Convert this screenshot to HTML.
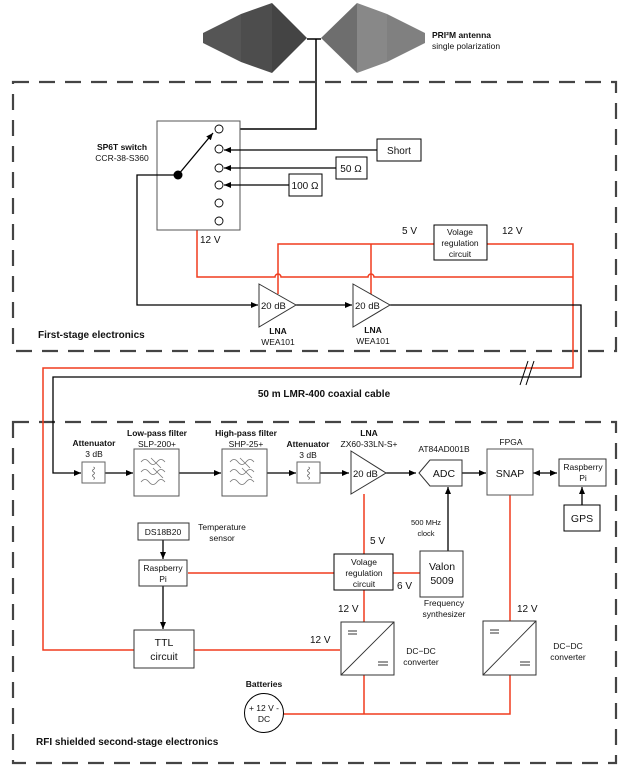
<!DOCTYPE html>
<html><head><meta charset="utf-8"><style>
html,body{margin:0;padding:0;background:#fff}
svg{display:block}
text{font-family:"Liberation Sans",sans-serif;fill:#111}
.s{font-size:8.5px}.b{font-weight:bold}
</style></head><body>
<svg width="623" height="777" viewBox="0 0 623 777" xmlns="http://www.w3.org/2000/svg">
<defs>
<marker id="a" markerWidth="8" markerHeight="8" refX="7" refY="4" orient="auto" markerUnits="userSpaceOnUse"><path d="M0,1 L7,4 L0,7 z" fill="#000"/></marker>
<marker id="as" markerWidth="8" markerHeight="8" refX="1" refY="4" orient="auto" markerUnits="userSpaceOnUse"><path d="M8,1 L1,4 L8,7 z" fill="#000"/></marker>
<g id="wave"><path d="M-14,-10 q4,-5 8,0 t8,0 t8,0 M-14,0 q4,-5 8,0 t8,0 t8,0 M-14,10 q4,-5 8,0 t8,0 t8,0" fill="none" stroke="#777" stroke-width="0.8"/><path d="M-4,-14 L6,-4 M-2,-4 L8,6" stroke="#777" stroke-width="0.8"/></g>
<g id="att"><path d="M0,-6 q2,1 0,2.5 q-2,1 0,2.5 q2,1 0,2.5 q-2,1 0,2.5 q2,1 0,2.5" fill="none" stroke="#555" stroke-width="0.7"/></g>
</defs>

<!-- antenna -->
<polygon points="203,33 241,14 241,62 203,43" fill="#555"/>
<polygon points="241,14 272,3 272,73 241,62" fill="#4d4d4d"/>
<polygon points="272,3 307,38 272,73" fill="#444"/>
<polygon points="321,38 357,3 357,73" fill="#6e6e6e"/>
<polygon points="357,3 387,14 387,62 357,73" fill="#888"/>
<polygon points="387,14 425,33 425,43 387,62" fill="#808080"/>
<path d="M307,39 H321 M316,39 V129 H222" stroke="#000" stroke-width="1.5" fill="none" marker-end="url(#a)"/>
<text x="432" y="38" class="s b">PRI²M antenna</text>
<text x="432" y="49" class="s">single polarization</text>

<!-- dashed boxes -->
<rect x="13" y="82" width="603" height="269" fill="none" stroke="#444" stroke-width="2.2" stroke-dasharray="16,10"/>
<rect x="13" y="422" width="603" height="341" fill="none" stroke="#444" stroke-width="2.2" stroke-dasharray="16,10"/>

<!-- red first stage -->
<g stroke="#f03c1e" stroke-width="1.5" fill="none">
<path d="M197,230 V277 H275 a3,3 0 0 1 6,0 H368 a3,3 0 0 1 6,0 H573"/>
<path d="M434,244 H278 V294 M371,244 V294"/>
<path d="M487,244 H573 V368 H43 V650 H134"/>
<path d="M194,650 H340"/>
<path d="M188,573 H334 M393,573 H420"/>
<path d="M364,494 V554 M364,590 V622 M364,675 V714 M283,714 H510 V675 M510,495 V621"/>
</g>

<!-- switch -->
<rect x="157" y="121" width="83" height="109" fill="#fff" stroke="#555" stroke-width="1"/>
<g fill="#fff" stroke="#000" stroke-width="0.9">
<circle cx="219" cy="129" r="4"/><circle cx="219" cy="149" r="4"/><circle cx="219" cy="168" r="4"/><circle cx="219" cy="185" r="4"/><circle cx="219" cy="203" r="4"/><circle cx="219" cy="221" r="4"/>
</g>
<circle cx="178" cy="175" r="4.5" fill="#000"/>
<path d="M178,175 L213,133" stroke="#000" stroke-width="1.3" marker-end="url(#a)"/>
<text x="122" y="150" class="s b" text-anchor="middle">SP6T switch</text>
<text x="122" y="161" class="s" text-anchor="middle">CCR-38-S360</text>
<text x="200" y="243" style="font-size:10px">12 V</text>
<g stroke="#000" stroke-width="1.3" fill="none">
<path d="M377,150 H224" marker-end="url(#a)"/>
<path d="M336,168 H224" marker-end="url(#a)"/>
<path d="M289,185 H224" marker-end="url(#a)"/>
<path d="M174,175 H137 V305 H258" marker-end="url(#a)"/>
<path d="M296,305 H352" marker-end="url(#a)"/>
<path d="M390,305 H581 V377 H53 V473 H81" marker-end="url(#a)"/>
</g>
<path d="M520,385 L528,361 M526,385 L534,361" stroke="#000" stroke-width="1"/>
<rect x="377" y="139" width="44" height="22" fill="#fff" stroke="#000"/><text x="399" y="154" text-anchor="middle" style="font-size:10px">Short</text>
<rect x="336" y="157" width="31" height="22" fill="#fff" stroke="#000"/><text x="351" y="172" text-anchor="middle" style="font-size:10px">50 Ω</text>
<rect x="289" y="174" width="33" height="22" fill="#fff" stroke="#000"/><text x="305" y="189" text-anchor="middle" style="font-size:10px">100 Ω</text>

<!-- LNAs first stage -->
<g fill="#fff" stroke="#333" stroke-width="1">
<polygon points="259,284 296,305 259,327"/><polygon points="353,284 390,305 353,327"/>
</g>
<text x="261" y="309" style="font-size:9.5px">20 dB</text><text x="355" y="309" style="font-size:9.5px">20 dB</text>
<text x="278" y="334" class="s b" text-anchor="middle">LNA</text><text x="278" y="345" class="s" text-anchor="middle">WEA101</text>
<text x="373" y="333" class="s b" text-anchor="middle">LNA</text><text x="373" y="344" class="s" text-anchor="middle">WEA101</text>
<rect x="434" y="225" width="53" height="35" fill="#fff" stroke="#000"/>
<text x="460" y="235" class="s" text-anchor="middle">Volage</text><text x="460" y="246" class="s" text-anchor="middle">regulation</text><text x="460" y="257" class="s" text-anchor="middle">circuit</text>
<text x="402" y="234" style="font-size:10px">5 V</text><text x="502" y="234" style="font-size:10px">12 V</text>
<text x="38" y="338" style="font-size:10px" class="b">First-stage electronics</text>
<text x="324" y="397" style="font-size:10px" class="b" text-anchor="middle">50 m LMR-400 coaxial cable</text>

<!-- second stage chain -->
<g stroke="#000" stroke-width="1.3" fill="none">
<path d="M105,473 H133" marker-end="url(#a)"/>
<path d="M179,473 H221" marker-end="url(#a)"/>
<path d="M267,473 H296" marker-end="url(#a)"/>
<path d="M320,473 H349" marker-end="url(#a)"/>
<path d="M386,473 H416" marker-end="url(#a)"/>
<path d="M460,473 H486" marker-end="url(#a)"/>
<path d="M533,473 H557" marker-start="url(#as)" marker-end="url(#a)"/>
<path d="M582,505 V487" marker-end="url(#a)"/>
<path d="M448,551 V487" marker-end="url(#a)"/>
<path d="M163,540 V559" marker-end="url(#a)"/>
<path d="M163,586 V629" marker-end="url(#a)"/>
</g>
<rect x="82" y="462" width="23" height="21" fill="#fff" stroke="#666"/><use href="#att" x="93.5" y="473"/>
<rect x="297" y="462" width="23" height="21" fill="#fff" stroke="#666"/><use href="#att" x="308.5" y="473"/>
<rect x="134" y="449" width="45" height="47" fill="#fff" stroke="#555"/><use href="#wave" x="155" y="472"/>
<rect x="222" y="449" width="45" height="47" fill="#fff" stroke="#555"/><use href="#wave" x="244" y="472"/>
<text x="94" y="446" class="s b" text-anchor="middle">Attenuator</text><text x="94" y="457" class="s" text-anchor="middle">3 dB</text>
<text x="308" y="447" class="s b" text-anchor="middle">Attenuator</text><text x="308" y="458" class="s" text-anchor="middle">3 dB</text>
<text x="157" y="436" class="s b" text-anchor="middle">Low-pass filter</text><text x="157" y="447" class="s" text-anchor="middle">SLP-200+</text>
<text x="246" y="436" class="s b" text-anchor="middle">High-pass filter</text><text x="246" y="447" class="s" text-anchor="middle">SHP-25+</text>
<polygon points="351,451 386,473 351,494" fill="#fff" stroke="#333"/>
<text x="353" y="477" style="font-size:9.5px">20 dB</text>
<text x="369" y="436" class="s b" text-anchor="middle">LNA</text><text x="369" y="447" class="s" text-anchor="middle">ZX60-33LN-S+</text>
<polygon points="419,473 430,460 462,460 462,486 430,486" fill="#fff" stroke="#333"/>
<text x="444" y="477" text-anchor="middle" style="font-size:10.5px">ADC</text>
<text x="444" y="452" class="s" text-anchor="middle">AT84AD001B</text>
<rect x="487" y="449" width="46" height="46" fill="#fff" stroke="#555"/>
<text x="510" y="477" text-anchor="middle" style="font-size:10.5px">SNAP</text>
<text x="511" y="445" class="s" text-anchor="middle">FPGA</text>
<rect x="559" y="459" width="47" height="27" fill="#fff" stroke="#333"/>
<text x="583" y="470" class="s" text-anchor="middle">Raspberry</text><text x="583" y="481" class="s" text-anchor="middle">Pi</text>
<rect x="564" y="505" width="36" height="26" fill="#fff" stroke="#000"/>
<text x="582" y="522" text-anchor="middle" style="font-size:10.5px">GPS</text>
<text x="426" y="525" text-anchor="middle" style="font-size:7.5px">500 MHz</text><text x="426" y="536" text-anchor="middle" style="font-size:7.5px">clock</text>

<rect x="138" y="523" width="51" height="17" fill="#fff" stroke="#333"/><text x="163" y="535" class="s" text-anchor="middle">DS18B20</text>
<text x="222" y="530" class="s" text-anchor="middle">Temperature</text><text x="222" y="541" class="s" text-anchor="middle">sensor</text>
<rect x="139" y="560" width="48" height="26" fill="#fff" stroke="#333"/>
<text x="163" y="571" class="s" text-anchor="middle">Raspberry</text><text x="163" y="582" class="s" text-anchor="middle">Pi</text>
<rect x="134" y="630" width="60" height="38" fill="#fff" stroke="#333"/>
<text x="164" y="646" text-anchor="middle" style="font-size:10.5px">TTL</text><text x="164" y="660" text-anchor="middle" style="font-size:10.5px">circuit</text>

<rect x="334" y="554" width="59" height="36" fill="#fff" stroke="#000"/>
<text x="364" y="565" class="s" text-anchor="middle">Volage</text><text x="364" y="576" class="s" text-anchor="middle">regulation</text><text x="364" y="587" class="s" text-anchor="middle">circuit</text>
<rect x="420" y="551" width="43" height="46" fill="#fff" stroke="#333"/>
<text x="442" y="570" text-anchor="middle" style="font-size:10.5px">Valon</text><text x="442" y="584" text-anchor="middle" style="font-size:10.5px">5009</text>
<text x="444" y="606" class="s" text-anchor="middle">Frequency</text><text x="444" y="617" class="s" text-anchor="middle">synthesizer</text>
<text x="370" y="544" style="font-size:10px">5 V</text>
<text x="397" y="589" style="font-size:10px">6 V</text>
<text x="338" y="612" style="font-size:10px">12 V</text>
<text x="310" y="643" style="font-size:10px">12 V</text>
<text x="517" y="612" style="font-size:10px">12 V</text>

<g fill="#fff" stroke="#333">
<rect x="341" y="622" width="53" height="53"/><rect x="483" y="621" width="53" height="54"/>
</g>
<g stroke="#333" stroke-width="0.9">
<path d="M341,675 L394,622 M483,675 L536,621"/>
<path d="M348,631 H357 M348,634 H357 M378,662 H388 M378,665 H388 M490,630 H499 M490,633 H499 M520,662 H530 M520,665 H530"/>
</g>
<text x="421" y="654" class="s" text-anchor="middle">DC−DC</text><text x="421" y="665" class="s" text-anchor="middle">converter</text>
<text x="568" y="649" class="s" text-anchor="middle">DC−DC</text><text x="568" y="660" class="s" text-anchor="middle">converter</text>

<circle cx="264" cy="713" r="19.5" fill="#fff" stroke="#000"/>
<text x="264" y="711" class="s" text-anchor="middle">+ 12 V -</text><text x="264" y="722" class="s" text-anchor="middle">DC</text>
<text x="264" y="687" class="s b" text-anchor="middle">Batteries</text>
<text x="36" y="745" style="font-size:10px" class="b">RFI shielded second-stage electronics</text>
</svg>
</body></html>
